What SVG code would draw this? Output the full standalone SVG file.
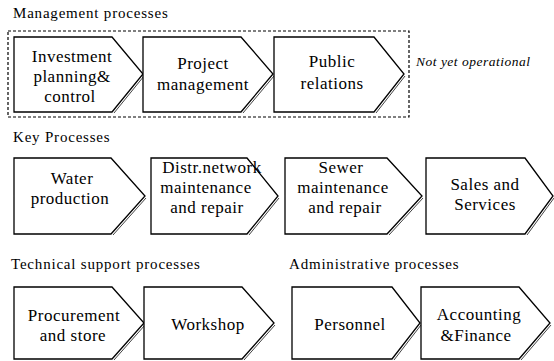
<svg xmlns="http://www.w3.org/2000/svg" width="554" height="361" viewBox="0 0 554 361">
<style>
.bg{fill:#fff}
.shape{fill:#fff;stroke:#000;stroke-width:1.3;stroke-linejoin:miter}
.shadow{fill:none;stroke:#444;stroke-width:1}
.nt{font-family:'Liberation Serif','Times New Roman',serif;font-size:17px;letter-spacing:0.5px;fill:#000;text-anchor:middle}
.hd{font-family:'Liberation Serif','Times New Roman',serif;font-size:15px;letter-spacing:0.8px;fill:#000}
.note{font-family:'Liberation Serif','Times New Roman',serif;font-size:13.5px;font-style:italic;letter-spacing:0.5px;fill:#000}
.box{fill:none;stroke:#000;stroke-width:1.2;stroke-dasharray:3 2}
</style>
<rect class="bg" x="0" y="0" width="554" height="361"/>
<text class="hd" x="13" y="18">Management processes</text>
<text class="hd" x="13" y="142">Key Processes</text>
<text class="hd" x="11" y="269">Technical support processes</text>
<text class="hd" x="289" y="269">Administrative processes</text>
<g id="connectors">
<rect class="box" x="8" y="31" width="401" height="86"/>
</g>
<text class="note" x="416" y="66">Not yet operational</text>

<g id="n1">
<path class="shape" d="M14,37 H112 L143,74 L112,112 H14 Z"/>
<path class="shadow" d="M144,76 L114,113"/>
<text class="nt" x="72" y="62">Investment</text>
<text class="nt" x="72" y="82">planning&amp;</text>
<text class="nt" x="70" y="102">control</text>
</g>
<g id="n2">
<path class="shape" d="M143,37 H241 L273,74 L241,112 H143 Z"/>
<path class="shadow" d="M274,76 L243,113"/>
<text class="nt" x="203" y="69">Project</text>
<text class="nt" x="203" y="90">management</text>
</g>
<g id="n3">
<path class="shape" d="M274,37 H374 L404,74 L374,112 H274 Z"/>
<path class="shadow" d="M405,76 L376,113"/>
<text class="nt" x="332" y="67">Public</text>
<text class="nt" x="332" y="89">relations</text>
</g>

<g id="n4">
<path class="shape" d="M14,158 H111 L145,196 L111,234 H14 Z"/>
<path class="shadow" d="M146,198 L113,235"/>
<text class="nt" x="72" y="184">Water</text>
<text class="nt" x="70" y="204">production</text>
</g>
<g id="n5">
<path class="shape" d="M151,158 H247 L278,196 L247,234 H151 Z"/>
<path class="shadow" d="M279,198 L249,235"/>
<text class="nt" x="212" y="173">Distr.network</text>
<text class="nt" x="206" y="193">maintenance</text>
<text class="nt" x="207" y="213">and repair</text>
</g>
<g id="n6">
<path class="shape" d="M285,158 H387 L422,196 L387,234 H285 Z"/>
<path class="shadow" d="M423,198 L389,235"/>
<text class="nt" x="341" y="173">Sewer</text>
<text class="nt" x="343" y="193">maintenance</text>
<text class="nt" x="345" y="213">and repair</text>
</g>
<g id="n7">
<path class="shape" d="M426,158 H525 L553,196 L525,234 H426 Z"/>
<path class="shadow" d="M554,198 L527,235"/>
<text class="nt" x="485" y="190">Sales and</text>
<text class="nt" x="485" y="210">Services</text>
</g>

<g id="n8">
<path class="shape" d="M14,287 H112 L144,323 L112,359 H14 Z"/>
<path class="shadow" d="M145,325 L114,360"/>
<text class="nt" x="74" y="321">Procurement</text>
<text class="nt" x="73" y="341">and store</text>
</g>
<g id="n9">
<path class="shape" d="M144,287 H242 L274,323 L242,359 H144 Z"/>
<path class="shadow" d="M275,325 L244,360"/>
<text class="nt" x="208" y="330">Workshop</text>
</g>
<g id="n10">
<path class="shape" d="M292,287 H392 L420,323 L392,359 H292 Z"/>
<path class="shadow" d="M421,325 L394,360"/>
<text class="nt" x="350" y="330">Personnel</text>
</g>
<g id="n11">
<path class="shape" d="M421,287 H519 L550,323 L519,359 H421 Z"/>
<path class="shadow" d="M551,325 L521,360"/>
<text class="nt" x="479" y="320">Accounting</text>
<text class="nt" x="476" y="341">&amp;Finance</text>
</g>
</svg>
